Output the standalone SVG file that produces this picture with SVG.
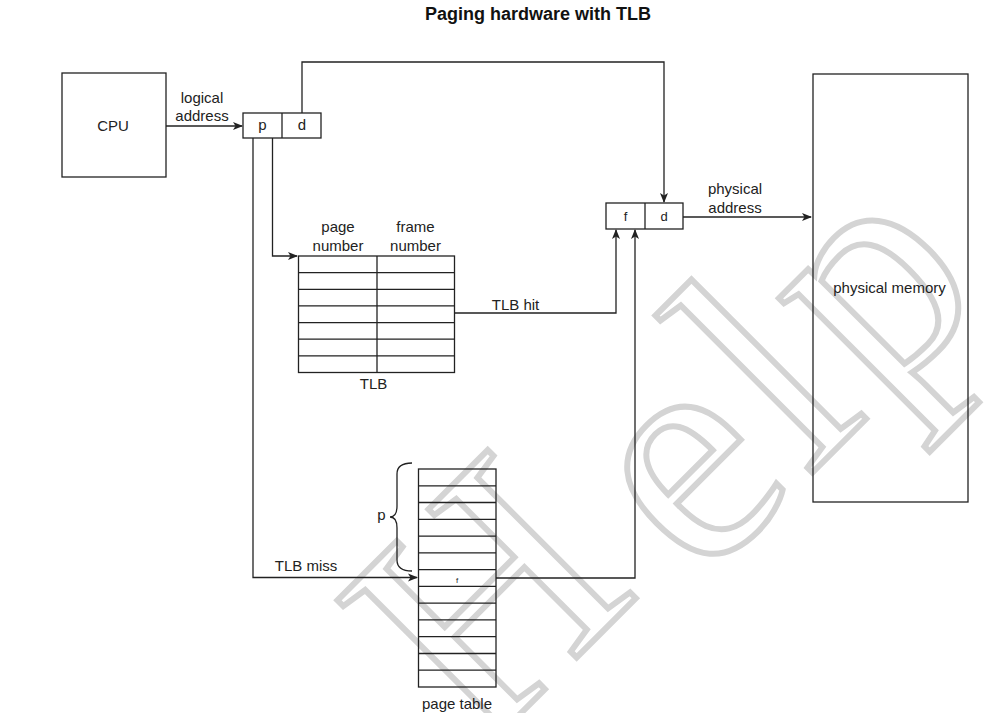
<svg xmlns="http://www.w3.org/2000/svg" width="1006" height="713" viewBox="0 0 1006 713">
<style>
.box{fill:#fff;stroke:#222;stroke-width:1.3}
.ln{fill:none;stroke:#222;stroke-width:1.3}
.t{font-family:"Liberation Sans",Arial,sans-serif;font-size:15px;fill:#222;text-anchor:middle}
.s{font-size:13px}
.wm{font-family:"Liberation Serif","Times New Roman",serif;font-size:320px;letter-spacing:10px;fill:none;stroke:#d4d4d4;stroke-width:6}
</style>
<defs>
<marker id="arr" markerUnits="userSpaceOnUse" markerWidth="10" markerHeight="10" viewBox="0 0 10 10" refX="9" refY="5" orient="auto">
<path d="M0,1 L10,5 L0,9 L2.5,5 z" fill="#222"/>
</marker>
</defs>
<rect width="1006" height="713" fill="#fff"/>
<text class="wm" transform="translate(530,755) rotate(-45)"><tspan x="-36" y="-36">H</tspan><tspan x="241" y="0">elp</tspan></text>
<text x="425" y="20" style="font-family:'Liberation Sans',Arial,sans-serif;font-size:18px;font-weight:bold;fill:#111">Paging hardware with TLB</text>

<g id="connectors">
<path class="ln" d="M166,126 H242" marker-end="url(#arr)"/>
<path class="ln" d="M302,113 V62 H664 V202" marker-end="url(#arr)"/>
<path class="ln" d="M683,217 H811" marker-end="url(#arr)"/>
<path class="ln" d="M272.5,138 V256 H297" marker-end="url(#arr)"/>
<path class="ln" d="M253,138 V577.5 H417" marker-end="url(#arr)"/>
<path class="ln" d="M454,313 H616 V230" marker-end="url(#arr)"/>
<path class="ln" d="M496,578 H635 V230" marker-end="url(#arr)"/>
<text class="t" x="202" y="103">logical</text>
<text class="t" x="202" y="121">address</text>
<text class="t" x="735" y="194">physical</text>
<text class="t" x="735" y="212.5">address</text>
<text class="t" x="515.5" y="310">TLB hit</text>
<text class="t" x="306" y="571">TLB miss</text>
</g>

<g id="cpu">
<rect class="box" x="62" y="73" width="104" height="104"/>
<text class="t" x="113" y="131">CPU</text>
</g>

<g id="logical-address">
<rect class="box" x="243" y="113" width="78" height="25"/>
<line class="ln" x1="282" y1="113" x2="282" y2="138"/>
<text class="t" x="262.5" y="130">p</text>
<text class="t" x="302" y="130">d</text>
</g>

<g id="physical-address">
<rect class="box" x="606" y="203" width="77" height="26"/>
<line class="ln" x1="645" y1="203" x2="645" y2="229"/>
<text class="t s" x="625.5" y="221">f</text>
<text class="t s" x="664" y="221">d</text>
</g>

<g id="physical-memory">
<rect class="box" x="813" y="74" width="155" height="428" fill-opacity="0"/>
<text class="t" x="889.5" y="293">physical memory</text>
</g>

<g id="tlb">
<text class="t" x="338" y="232">page</text>
<text class="t" x="338" y="250.5">number</text>
<text class="t" x="415.5" y="232">frame</text>
<text class="t" x="415.5" y="250.5">number</text>
<rect class="box" x="298.5" y="256" width="156" height="116.5"/>
<path class="ln" d="M298.5,272.6 H454.5 M298.5,289.3 H454.5 M298.5,305.9 H454.5 M298.5,322.6 H454.5 M298.5,339.2 H454.5 M298.5,355.9 H454.5 M377,256 V372.5"/>
<text class="t" x="373.5" y="389">TLB</text>
</g>

<g id="page-table">
<rect class="box" x="418.5" y="469" width="77.5" height="218" fill-opacity="0"/>
<path class="ln" d="M418.5,485.8 H496 M418.5,502.5 H496 M418.5,519.3 H496 M418.5,536.1 H496 M418.5,552.8 H496 M418.5,569.6 H496 M418.5,586.4 H496 M418.5,603.2 H496 M418.5,619.9 H496 M418.5,636.7 H496 M418.5,653.5 H496 M418.5,670.2 H496"/>
<text class="t" x="457" y="582.5" style="font-size:8px">f</text>
<path class="ln" d="M412,463 Q397,463 397,474 V506 Q397,517 390,517 Q397,517 397,528 V560 Q397,571 412,571"/>
<text class="t" x="381.5" y="520">p</text>
<text class="t" x="457" y="708.5">page table</text>
</g>
</svg>
